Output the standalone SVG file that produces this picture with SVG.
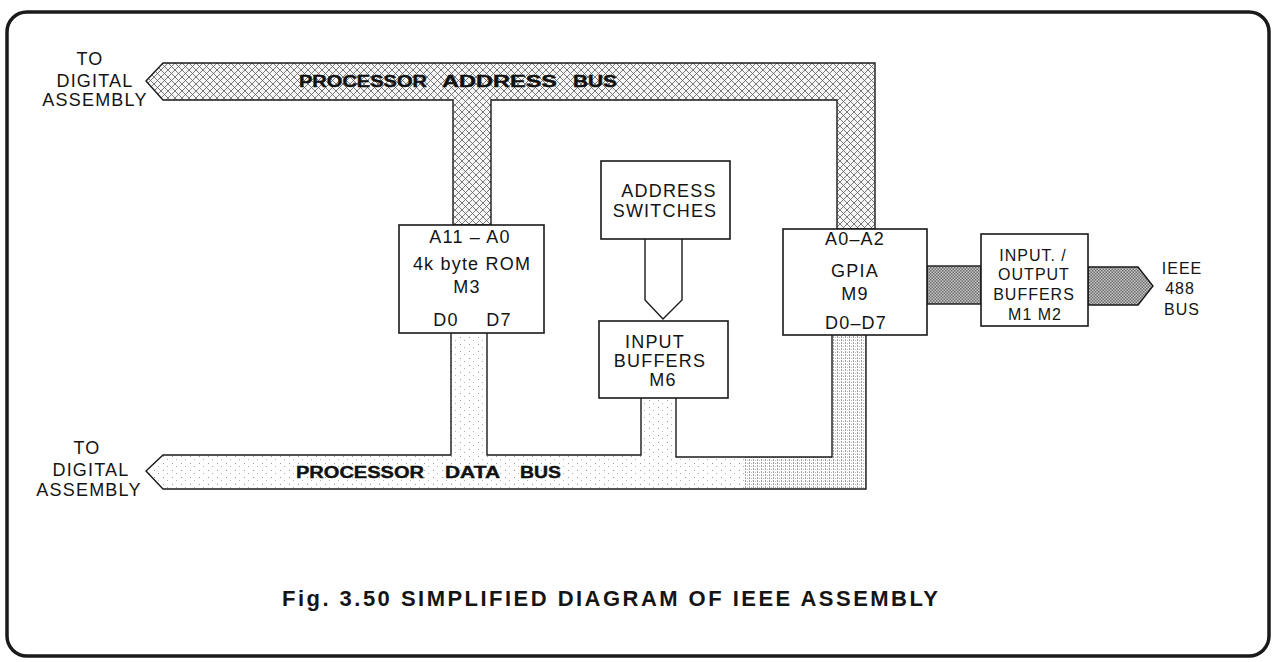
<svg xmlns="http://www.w3.org/2000/svg" width="1275" height="662" viewBox="0 0 1275 662">
<style>
.box{fill:#fff;stroke:#1a1a1a;stroke-width:1.6}
.t{font-family:"Liberation Sans",Arial,sans-serif;font-size:18px;fill:#141414;text-anchor:middle;letter-spacing:1.2px}
.s{font-size:16px;letter-spacing:1px}
.b{font-family:"Liberation Sans",Arial,sans-serif;font-weight:bold;font-size:16px;fill:#111;stroke:#111;stroke-width:0.4}
.cap{font-family:"Liberation Sans",Arial,sans-serif;font-weight:bold;font-size:22px;fill:#151515}
.bus{stroke:#1a1a1a;stroke-width:1.4;stroke-linejoin:miter}
</style>
<defs>
<pattern id="hatch" width="7" height="7" patternUnits="userSpaceOnUse">
<rect width="7" height="7" fill="#f6f6f6"/>
<path d="M0,0L7,7M0,7L7,0M-1,1L1,-1M6,8L8,6" stroke="#5a5a5a" stroke-width="0.8"/>
</pattern>
<pattern id="dots" width="9" height="7" patternUnits="userSpaceOnUse">
<rect width="9" height="7" fill="#fff"/>
<rect x="1" y="1" width="1" height="1" fill="#9a9a9a"/>
<rect x="5" y="4" width="1" height="1" fill="#b0b0b0"/>
</pattern>
<pattern id="dense" width="4" height="3" patternUnits="userSpaceOnUse">
<rect width="4" height="3" fill="#fff"/>
<rect x="1" y="0" width="1" height="2" fill="#8a8a8a"/>
<rect x="3" y="1" width="1" height="1" fill="#aaa"/>
</pattern>
<pattern id="checker" width="3" height="3" patternUnits="userSpaceOnUse">
<rect width="3" height="3" fill="#c8c8c8"/>
<rect x="0" y="0" width="1.5" height="1.5" fill="#6a6a6a"/>
<rect x="1.5" y="1.5" width="1.5" height="1.5" fill="#6a6a6a"/>
</pattern>
<clipPath id="dataclip">
<path d="M146,471L163,455L451,455L451,333L487,333L487,455L641,455L641,398L676,398L676,457L832,457L832,335L866,335L866,489L163,489Z"/>
</clipPath>
</defs>
<rect width="1275" height="662" fill="#fff"/>
<rect id="frame" x="7" y="12" width="1262" height="644" rx="20" ry="20" fill="none" stroke="#1a1a1a" stroke-width="3.5"/>

<g id="connectors">
<path id="address-bus" class="bus" fill="url(#hatch)" d="M146,81L163,63L875,63L875,229L837,229L837,100L491,100L491,225L453,225L453,100L163,100Z"/>
<path id="data-bus" fill="url(#dots)" d="M146,471L163,455L451,455L451,333L487,333L487,455L641,455L641,398L676,398L676,457L832,457L832,335L866,335L866,489L163,489Z"/>
<rect x="745" y="335" width="121" height="154" fill="url(#dense)" clip-path="url(#dataclip)" opacity="0.8"/>
<path id="data-bus-outline" d="M487,333L487,455L641,455L641,398M676,398L676,457L832,457L832,335M866,335L866,489L163,489L146,471L163,455L451,455L451,333" fill="none" stroke="#1a1a1a" stroke-width="1.4"/>
<path id="switch-arrow" d="M645,239L645,300L663,319L682,300L682,239" fill="#fff" stroke="#1a1a1a" stroke-width="1.4"/>
<rect id="gpia-io-link" x="927" y="266" width="54" height="38" fill="url(#checker)" stroke="#1a1a1a" stroke-width="1.4"/>
<path id="ieee-bus" d="M1088,267L1138,267L1153,286L1138,305L1088,305Z" fill="url(#checker)" stroke="#1a1a1a" stroke-width="1.4"/>
<text class="b" x="299" y="87" textLength="128" lengthAdjust="spacingAndGlyphs">PROCESSOR</text>
<text class="b" x="442" y="87" textLength="115" lengthAdjust="spacingAndGlyphs">ADDRESS</text>
<text class="b" x="573" y="87" textLength="44" lengthAdjust="spacingAndGlyphs">BUS</text>
<text class="b" x="296" y="478" textLength="128" lengthAdjust="spacingAndGlyphs">PROCESSOR</text>
<text class="b" x="445" y="478" textLength="55" lengthAdjust="spacingAndGlyphs">DATA</text>
<text class="b" x="520" y="478" textLength="41" lengthAdjust="spacingAndGlyphs">BUS</text>
</g>

<g id="rom">
<rect class="box" x="399" y="225" width="145" height="108"/>
<text class="t" x="470" y="243">A11 – A0</text>
<text class="t" x="472" y="270">4k byte ROM</text>
<text class="t" x="467" y="293">M3</text>
<text class="t" x="446" y="326">D0</text>
<text class="t" x="499" y="326">D7</text>
</g>

<g id="address-switches">
<rect class="box" x="601" y="161" width="129" height="78"/>
<text class="t" x="669" y="197">ADDRESS</text>
<text class="t" x="665" y="217">SWITCHES</text>
</g>

<g id="input-buffers">
<rect class="box" x="599" y="321" width="129" height="77"/>
<text class="t" x="655" y="348">INPUT</text>
<text class="t" x="660" y="367">BUFFERS</text>
<text class="t" x="663" y="386">M6</text>
</g>

<g id="gpia">
<rect class="box" x="783" y="229" width="144" height="106"/>
<text class="t" x="855" y="245">A0–A2</text>
<text class="t" x="855" y="277">GPIA</text>
<text class="t" x="855" y="300">M9</text>
<text class="t" x="856" y="329">D0–D7</text>
</g>

<g id="io-buffers">
<rect class="box" x="981" y="234" width="107" height="92"/>
<text class="t s" x="1033" y="261">INPUT. /</text>
<text class="t s" x="1034" y="280">OUTPUT</text>
<text class="t s" x="1034" y="300">BUFFERS</text>
<text class="t s" x="1035" y="320">M1 M2</text>
</g>

<g id="ieee-label">
<text class="t s" x="1182" y="274">IEEE</text>
<text class="t s" x="1180" y="294">488</text>
<text class="t s" x="1182" y="315">BUS</text>
</g>

<g id="top-left-label">
<text class="t" x="90" y="65">TO</text>
<text class="t" x="95" y="87">DIGITAL</text>
<text class="t" x="95" y="106">ASSEMBLY</text>
</g>

<g id="bottom-left-label">
<text class="t" x="87" y="454">TO</text>
<text class="t" x="91" y="476">DIGITAL</text>
<text class="t" x="89" y="496">ASSEMBLY</text>
</g>

<text class="cap" x="282" y="606" textLength="656" lengthAdjust="spacing">Fig. 3.50  SIMPLIFIED DIAGRAM OF IEEE ASSEMBLY</text>
</svg>
